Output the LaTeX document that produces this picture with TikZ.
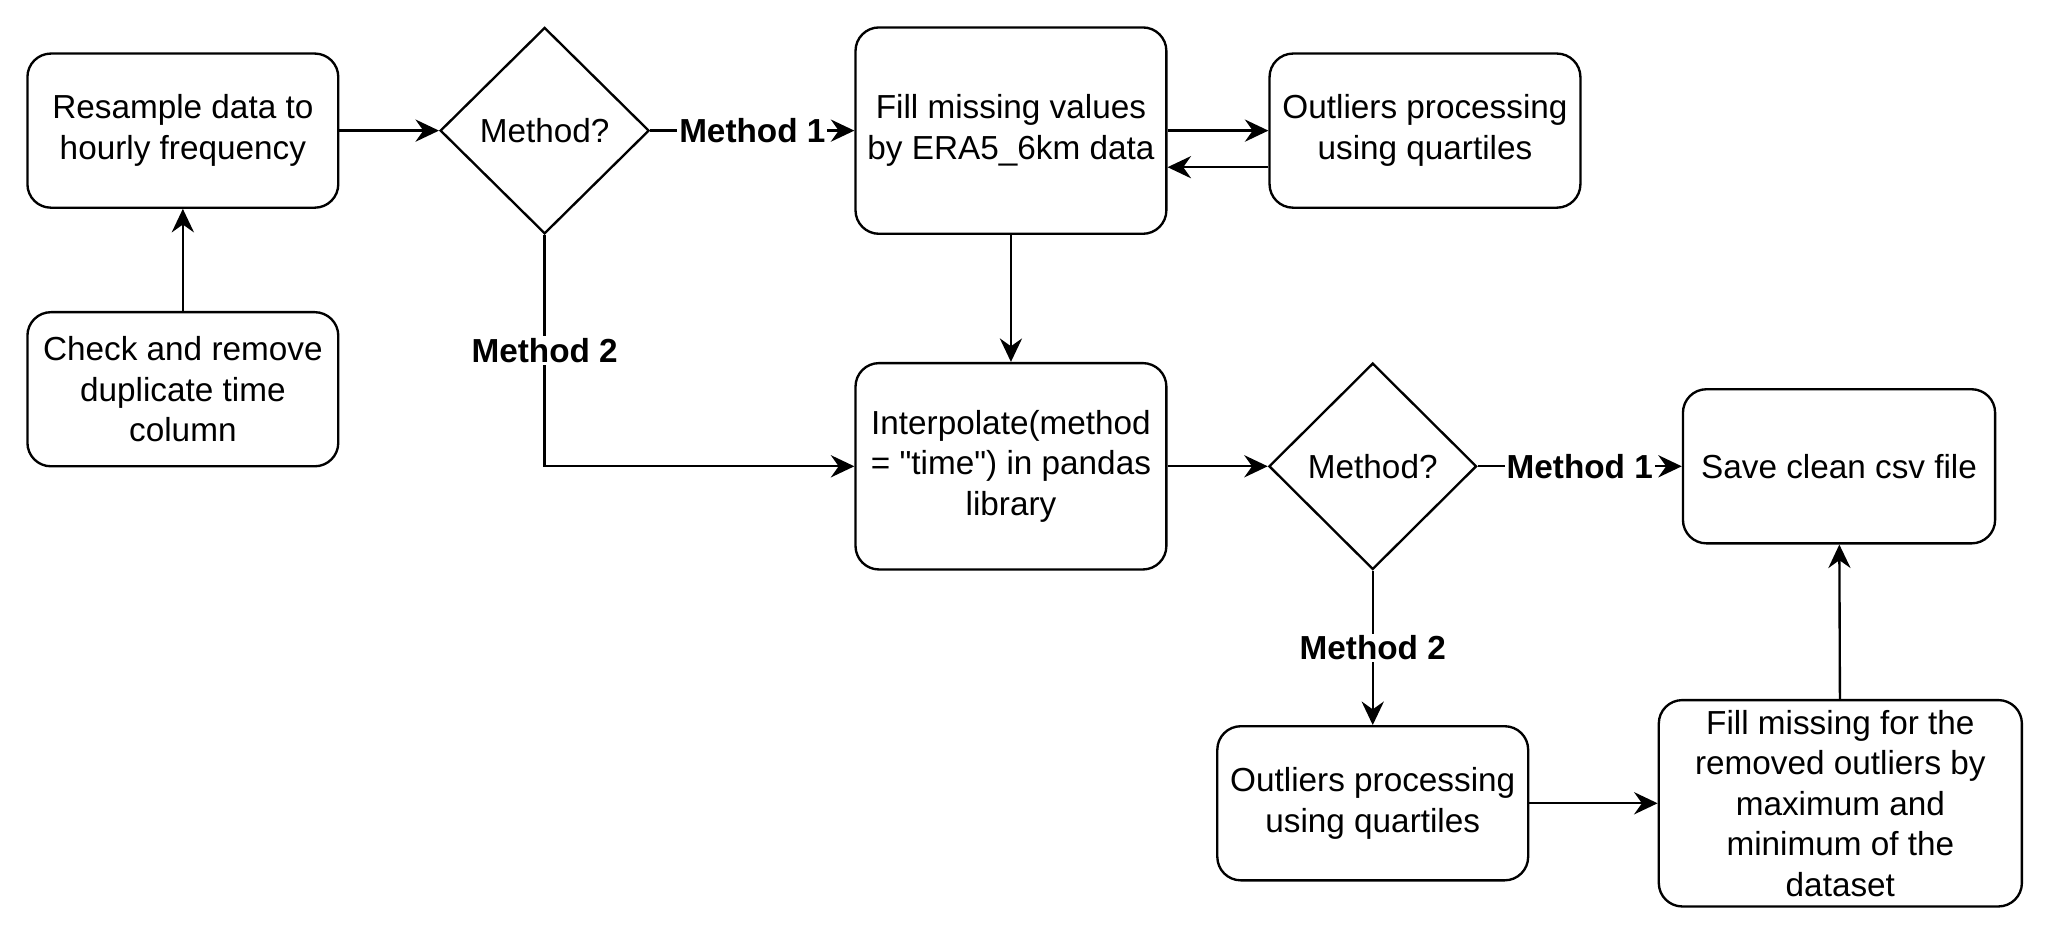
\documentclass[tikz,border=0pt]{standalone}
\usepackage{fontspec}
\setmainfont{Liberation Sans}
\newfontfamily\qf{Liberation Sans}
\usetikzlibrary{shapes.geometric,arrows.meta}
\newcommand{\fs}{\fontsize{25.5pt}{31pt}\selectfont}
\begin{document}
\begin{tikzpicture}[x=1pt,y=-1pt,
  line width=1.8pt,
  box/.style={draw,rounded corners=18pt,minimum width=238pt,minimum height=118pt,align=center,inner sep=0pt,font=\fs},
  dia/.style={draw,diamond,aspect=1.0127,minimum width=160pt,minimum height=158pt,inner sep=0pt,font=\fs},
  lbl/.style={fill=white,font=\fs\bfseries,inner sep=1.5pt},
  arr/.style={-{Stealth[length=18pt,width=17pt,inset=6pt]}}
]
\useasboundingbox (0,0) rectangle (1568,716);
\node[box] (A) at (140,100) {Resample data to\\hourly frequency};
\node[box] (B) at (140,298) {Check and remove\\duplicate time\\column};
\node[dia] (D1) at (417,100) {Method?};
\node[box,minimum height=158pt] (C) at (774,100) {Fill missing values\\by ERA5\_6km data};
\node[box] (E) at (1091,100) {Outliers processing\\using quartiles};
\node[box,minimum height=158pt] (F) at (774,357) {Interpolate(method\\= {\qf"time"}) in pandas\\library};
\node[dia,minimum width=159pt] (D2) at (1051,357) {Method?};
\node[box,minimum width=239pt] (G) at (1408,357) {Save clean csv file};
\node[box] (H) at (1051,615) {Outliers processing\\using quartiles};
\node[box,minimum width=278pt,minimum height=158pt] (I) at (1409,615) {Fill missing for the\\removed outliers by\\maximum and\\minimum of the\\dataset};

\draw[arr] (B) -- (A);
\draw[arr] (A) -- (D1);
\draw[arr] (D1) -- node[lbl]{Method 1} (C);
\draw[arr] (C) -- (E);
\draw[arr] ([yshift=-28pt]E.west) -- ([yshift=-28pt]C.east);
\draw[arr] (C) -- (F);
\draw[arr] (D1.south) -- node[lbl]{Method 2} (D1.south |- F.west) -- (F.west);
\draw[arr] (F) -- (D2);
\draw[arr] (D2) -- node[lbl]{Method 1} (G);
\draw[arr] (D2) -- node[lbl]{Method 2} (H);
\draw[arr] (H) -- (I);
\draw[arr] (I) -- (G);
\end{tikzpicture}
\end{document}
